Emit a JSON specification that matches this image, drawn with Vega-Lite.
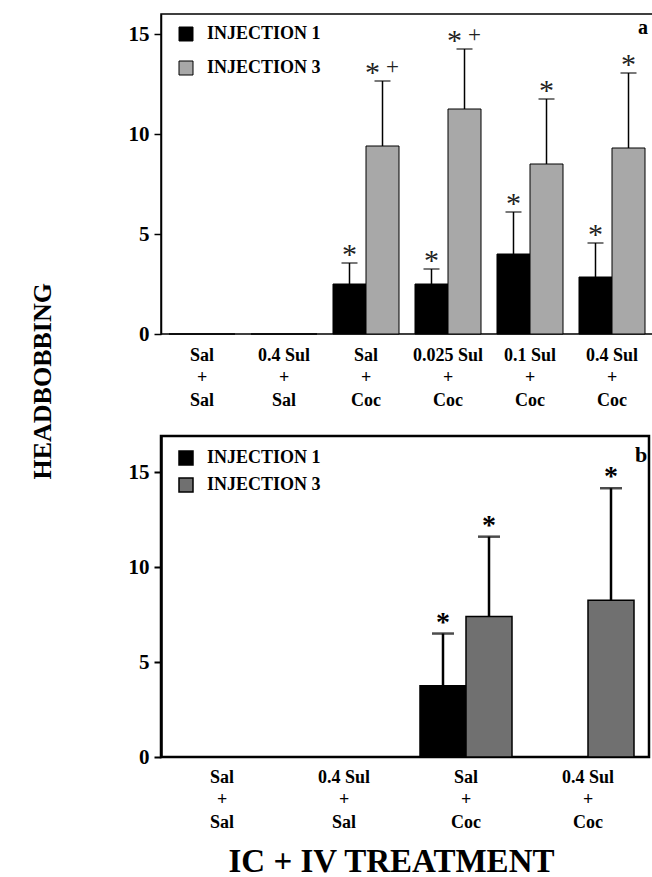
{
  "$schema": "https://vega.github.io/schema/vega-lite/v6.json",
  "background": "white",
  "padding": {"left": 29, "top": 13, "right": 0, "bottom": 0},
  "config": {
    "font": "Liberation Serif",
    "axis": {
      "labelFont": "Liberation Serif",
      "labelFontWeight": "bold",
      "labelFontSize": 18,
      "labelColor": "black",
      "titleFont": "Liberation Serif",
      "titleFontWeight": "bold",
      "titleColor": "black",
      "domainColor": "black",
      "tickColor": "black",
      "grid": false
    },
    "legend": {
      "labelFont": "Liberation Serif",
      "labelFontWeight": "bold",
      "labelFontSize": 18,
      "labelColor": "black"
    },
    "concat": {"spacing": 24}
  },
  "title": {
    "text": "HEADBOBBING",
    "orient": "left",
    "anchor": "middle",
    "font": "Liberation Serif",
    "fontSize": 26,
    "fontWeight": "bold",
    "color": "black",
    "offset": 71,
    "dx": 65
  },
  "resolve": {
    "scale": {"x": "independent", "y": "independent", "xOffset": "independent", "fill": "independent"},
    "legend": {"fill": "independent"}
  },
  "vconcat": [
    {
      "width": 492,
      "height": 320,
      "view": {"stroke": "black", "strokeWidth": 1.5},
      "data": {
        "values": [
          {"treatment": "Sal + Sal", "injection": "INJECTION 1", "mean": 0, "upper": null, "sig": ""},
          {"treatment": "Sal + Sal", "injection": "INJECTION 3", "mean": 0, "upper": null, "sig": ""},
          {"treatment": "0.4 Sul + Sal", "injection": "INJECTION 1", "mean": 0, "upper": null, "sig": ""},
          {"treatment": "0.4 Sul + Sal", "injection": "INJECTION 3", "mean": 0, "upper": null, "sig": ""},
          {"treatment": "Sal + Coc", "injection": "INJECTION 1", "mean": 2.5, "upper": 3.55, "sig": "*"},
          {"treatment": "Sal + Coc", "injection": "INJECTION 3", "mean": 9.4, "upper": 12.65, "sig": "*+"},
          {"treatment": "0.025 Sul + Coc", "injection": "INJECTION 1", "mean": 2.5, "upper": 3.25, "sig": "*"},
          {"treatment": "0.025 Sul + Coc", "injection": "INJECTION 3", "mean": 11.25, "upper": 14.25, "sig": "*+"},
          {"treatment": "0.1 Sul + Coc", "injection": "INJECTION 1", "mean": 4.0, "upper": 6.1, "sig": "*"},
          {"treatment": "0.1 Sul + Coc", "injection": "INJECTION 3", "mean": 8.5, "upper": 11.75, "sig": "*"},
          {"treatment": "0.4 Sul + Coc", "injection": "INJECTION 1", "mean": 2.85, "upper": 4.55, "sig": "*"},
          {"treatment": "0.4 Sul + Coc", "injection": "INJECTION 3", "mean": 9.3, "upper": 13.05, "sig": "*"}
        ]
      },
      "encoding": {
        "x": {
          "field": "treatment", "type": "nominal",
          "sort": ["Sal + Sal", "0.4 Sul + Sal", "Sal + Coc", "0.025 Sul + Coc", "0.1 Sul + Coc", "0.4 Sul + Coc"],
          "scale": {"paddingInner": 0, "paddingOuter": 0},
          "axis": {
            "title": null, "labelAngle": 0, "ticks": false, "domain": false,
            "labelPadding": 12, "labelLineHeight": 22.5, "labelBaseline": "top",
            "labelExpr": "[split(datum.label, ' + ')[0], '+', split(datum.label, ' + ')[1]]"
          }
        },
        "xOffset": {
          "field": "injection", "type": "nominal",
          "scale": {"paddingInner": 0, "paddingOuter": 0.242}
        }
      },
      "layer": [
        {
          "mark": {"type": "bar", "stroke": "black", "strokeWidth": 1},
          "encoding": {
            "y": {
              "field": "mean", "type": "quantitative",
              "scale": {"domain": [0, 16], "nice": false},
              "axis": {"title": null, "values": [0, 5, 10, 15], "labelFontSize": 21, "tickSize": 7, "tickWidth": 1.5, "domainWidth": 1.5, "labelPadding": 5}
            },
            "fill": {
              "field": "injection", "type": "nominal",
              "scale": {"range": ["black", "#a8a8a8"]},
              "legend": {
                "title": null, "orient": "none", "legendX": 16, "legendY": 11,
                "symbolType": "square", "symbolSize": 196, "symbolStrokeColor": "black",
                "symbolStrokeWidth": 1, "symbolOpacity": 1, "rowPadding": 16, "labelOffset": 12, "padding": 0
              }
            }
          }
        },
        {
          "transform": [{"filter": "datum.upper != null"}],
          "mark": {"type": "rule", "color": "black", "strokeWidth": 1.5},
          "encoding": {
            "y": {"field": "mean", "type": "quantitative"},
            "y2": {"field": "upper"}
          }
        },
        {
          "transform": [{"filter": "datum.upper != null"}],
          "mark": {"type": "tick", "color": "black", "size": 16, "thickness": 1.5, "orient": "horizontal"},
          "encoding": {
            "y": {"field": "upper", "type": "quantitative"}
          }
        },
        {
          "transform": [{"filter": "datum.sig == '*'"}],
          "mark": {"type": "text", "text": "*", "fontSize": 30, "baseline": "alphabetic", "dy": 1, "color": "#222"},
          "encoding": {
            "y": {"field": "upper", "type": "quantitative"}
          }
        },
        {
          "transform": [{"filter": "datum.sig == '*+'"}],
          "mark": {"type": "text", "text": "*", "fontSize": 30, "baseline": "alphabetic", "dy": 1, "dx": -10, "color": "#222"},
          "encoding": {
            "y": {"field": "upper", "type": "quantitative"}
          }
        },
        {
          "transform": [{"filter": "datum.sig == '*+'"}],
          "mark": {"type": "text", "text": "+", "fontSize": 23, "baseline": "alphabetic", "dy": -7, "dx": 10, "color": "#222"},
          "encoding": {
            "y": {"field": "upper", "type": "quantitative"}
          }
        },
        {
          "data": {"values": [{"panel": "a"}]},
          "mark": {"type": "text", "fontSize": 20, "fontWeight": "bold", "baseline": "middle", "dx": 31, "color": "black"},
          "encoding": {
            "x": {"datum": "0.4 Sul + Coc"},
            "xOffset": null,
            "y": {"datum": 15.3},
            "text": {"field": "panel"}
          }
        }
      ]
    },
    {
      "width": 488,
      "height": 321,
      "view": {"stroke": "black", "strokeWidth": 2.5},
      "data": {
        "values": [
          {"treatment": "Sal + Sal", "injection": "INJECTION 1", "mean": 0, "upper": null, "sig": ""},
          {"treatment": "Sal + Sal", "injection": "INJECTION 3", "mean": 0, "upper": null, "sig": ""},
          {"treatment": "0.4 Sul + Sal", "injection": "INJECTION 1", "mean": 0, "upper": null, "sig": ""},
          {"treatment": "0.4 Sul + Sal", "injection": "INJECTION 3", "mean": 0, "upper": null, "sig": ""},
          {"treatment": "Sal + Coc", "injection": "INJECTION 1", "mean": 3.75, "upper": 6.5, "sig": "*"},
          {"treatment": "Sal + Coc", "injection": "INJECTION 3", "mean": 7.4, "upper": 11.6, "sig": "*"},
          {"treatment": "0.4 Sul + Coc", "injection": "INJECTION 1", "mean": 0, "upper": null, "sig": ""},
          {"treatment": "0.4 Sul + Coc", "injection": "INJECTION 3", "mean": 8.25, "upper": 14.15, "sig": "*"}
        ]
      },
      "encoding": {
        "x": {
          "field": "treatment", "type": "nominal",
          "sort": ["Sal + Sal", "0.4 Sul + Sal", "Sal + Coc", "0.4 Sul + Coc"],
          "scale": {"paddingInner": 0, "paddingOuter": 0},
          "axis": {
            "title": "IC + IV TREATMENT", "titleFontSize": 33, "titleX": 230, "titlePadding": 14,
            "labelAngle": 0, "ticks": false, "domain": false,
            "labelPadding": 11, "labelLineHeight": 22.5, "labelBaseline": "top",
            "labelExpr": "[split(datum.label, ' + ')[0], '+', split(datum.label, ' + ')[1]]"
          }
        },
        "xOffset": {
          "field": "injection", "type": "nominal",
          "scale": {"paddingInner": 0, "paddingOuter": 0.326}
        }
      },
      "layer": [
        {
          "mark": {"type": "bar", "stroke": "black", "strokeWidth": 1.5},
          "encoding": {
            "y": {
              "field": "mean", "type": "quantitative",
              "scale": {"domain": [0, 16.9], "nice": false},
              "axis": {"title": null, "values": [0, 5, 10, 15], "labelFontSize": 21, "tickSize": 7, "tickWidth": 2, "domainWidth": 2.5, "labelPadding": 5}
            },
            "fill": {
              "field": "injection", "type": "nominal",
              "scale": {"range": ["black", "#707070"]},
              "legend": {
                "title": null, "orient": "none", "legendX": 16, "legendY": 13,
                "symbolType": "square", "symbolSize": 196, "symbolStrokeColor": "black",
                "symbolStrokeWidth": 1.5, "symbolOpacity": 1, "rowPadding": 7, "labelOffset": 12, "padding": 0
              }
            }
          }
        },
        {
          "transform": [{"filter": "datum.upper != null"}],
          "mark": {"type": "rule", "color": "black", "strokeWidth": 2.5},
          "encoding": {
            "y": {"field": "mean", "type": "quantitative"},
            "y2": {"field": "upper"}
          }
        },
        {
          "transform": [{"filter": "datum.upper != null"}],
          "mark": {"type": "tick", "color": "black", "size": 22, "thickness": 2.5, "orient": "horizontal"},
          "encoding": {
            "y": {"field": "upper", "type": "quantitative"}
          }
        },
        {
          "transform": [{"filter": "datum.sig == '*'"}],
          "mark": {"type": "text", "text": "*", "fontSize": 28, "fontWeight": "bold", "baseline": "alphabetic", "dy": -3, "color": "black"},
          "encoding": {
            "y": {"field": "upper", "type": "quantitative"}
          }
        },
        {
          "data": {"values": [{"panel": "b"}]},
          "mark": {"type": "text", "fontSize": 22, "fontWeight": "bold", "baseline": "middle", "dx": 53, "color": "black"},
          "encoding": {
            "x": {"datum": "0.4 Sul + Coc"},
            "xOffset": null,
            "y": {"datum": 15.9},
            "text": {"field": "panel"}
          }
        }
      ]
    }
  ]
}
